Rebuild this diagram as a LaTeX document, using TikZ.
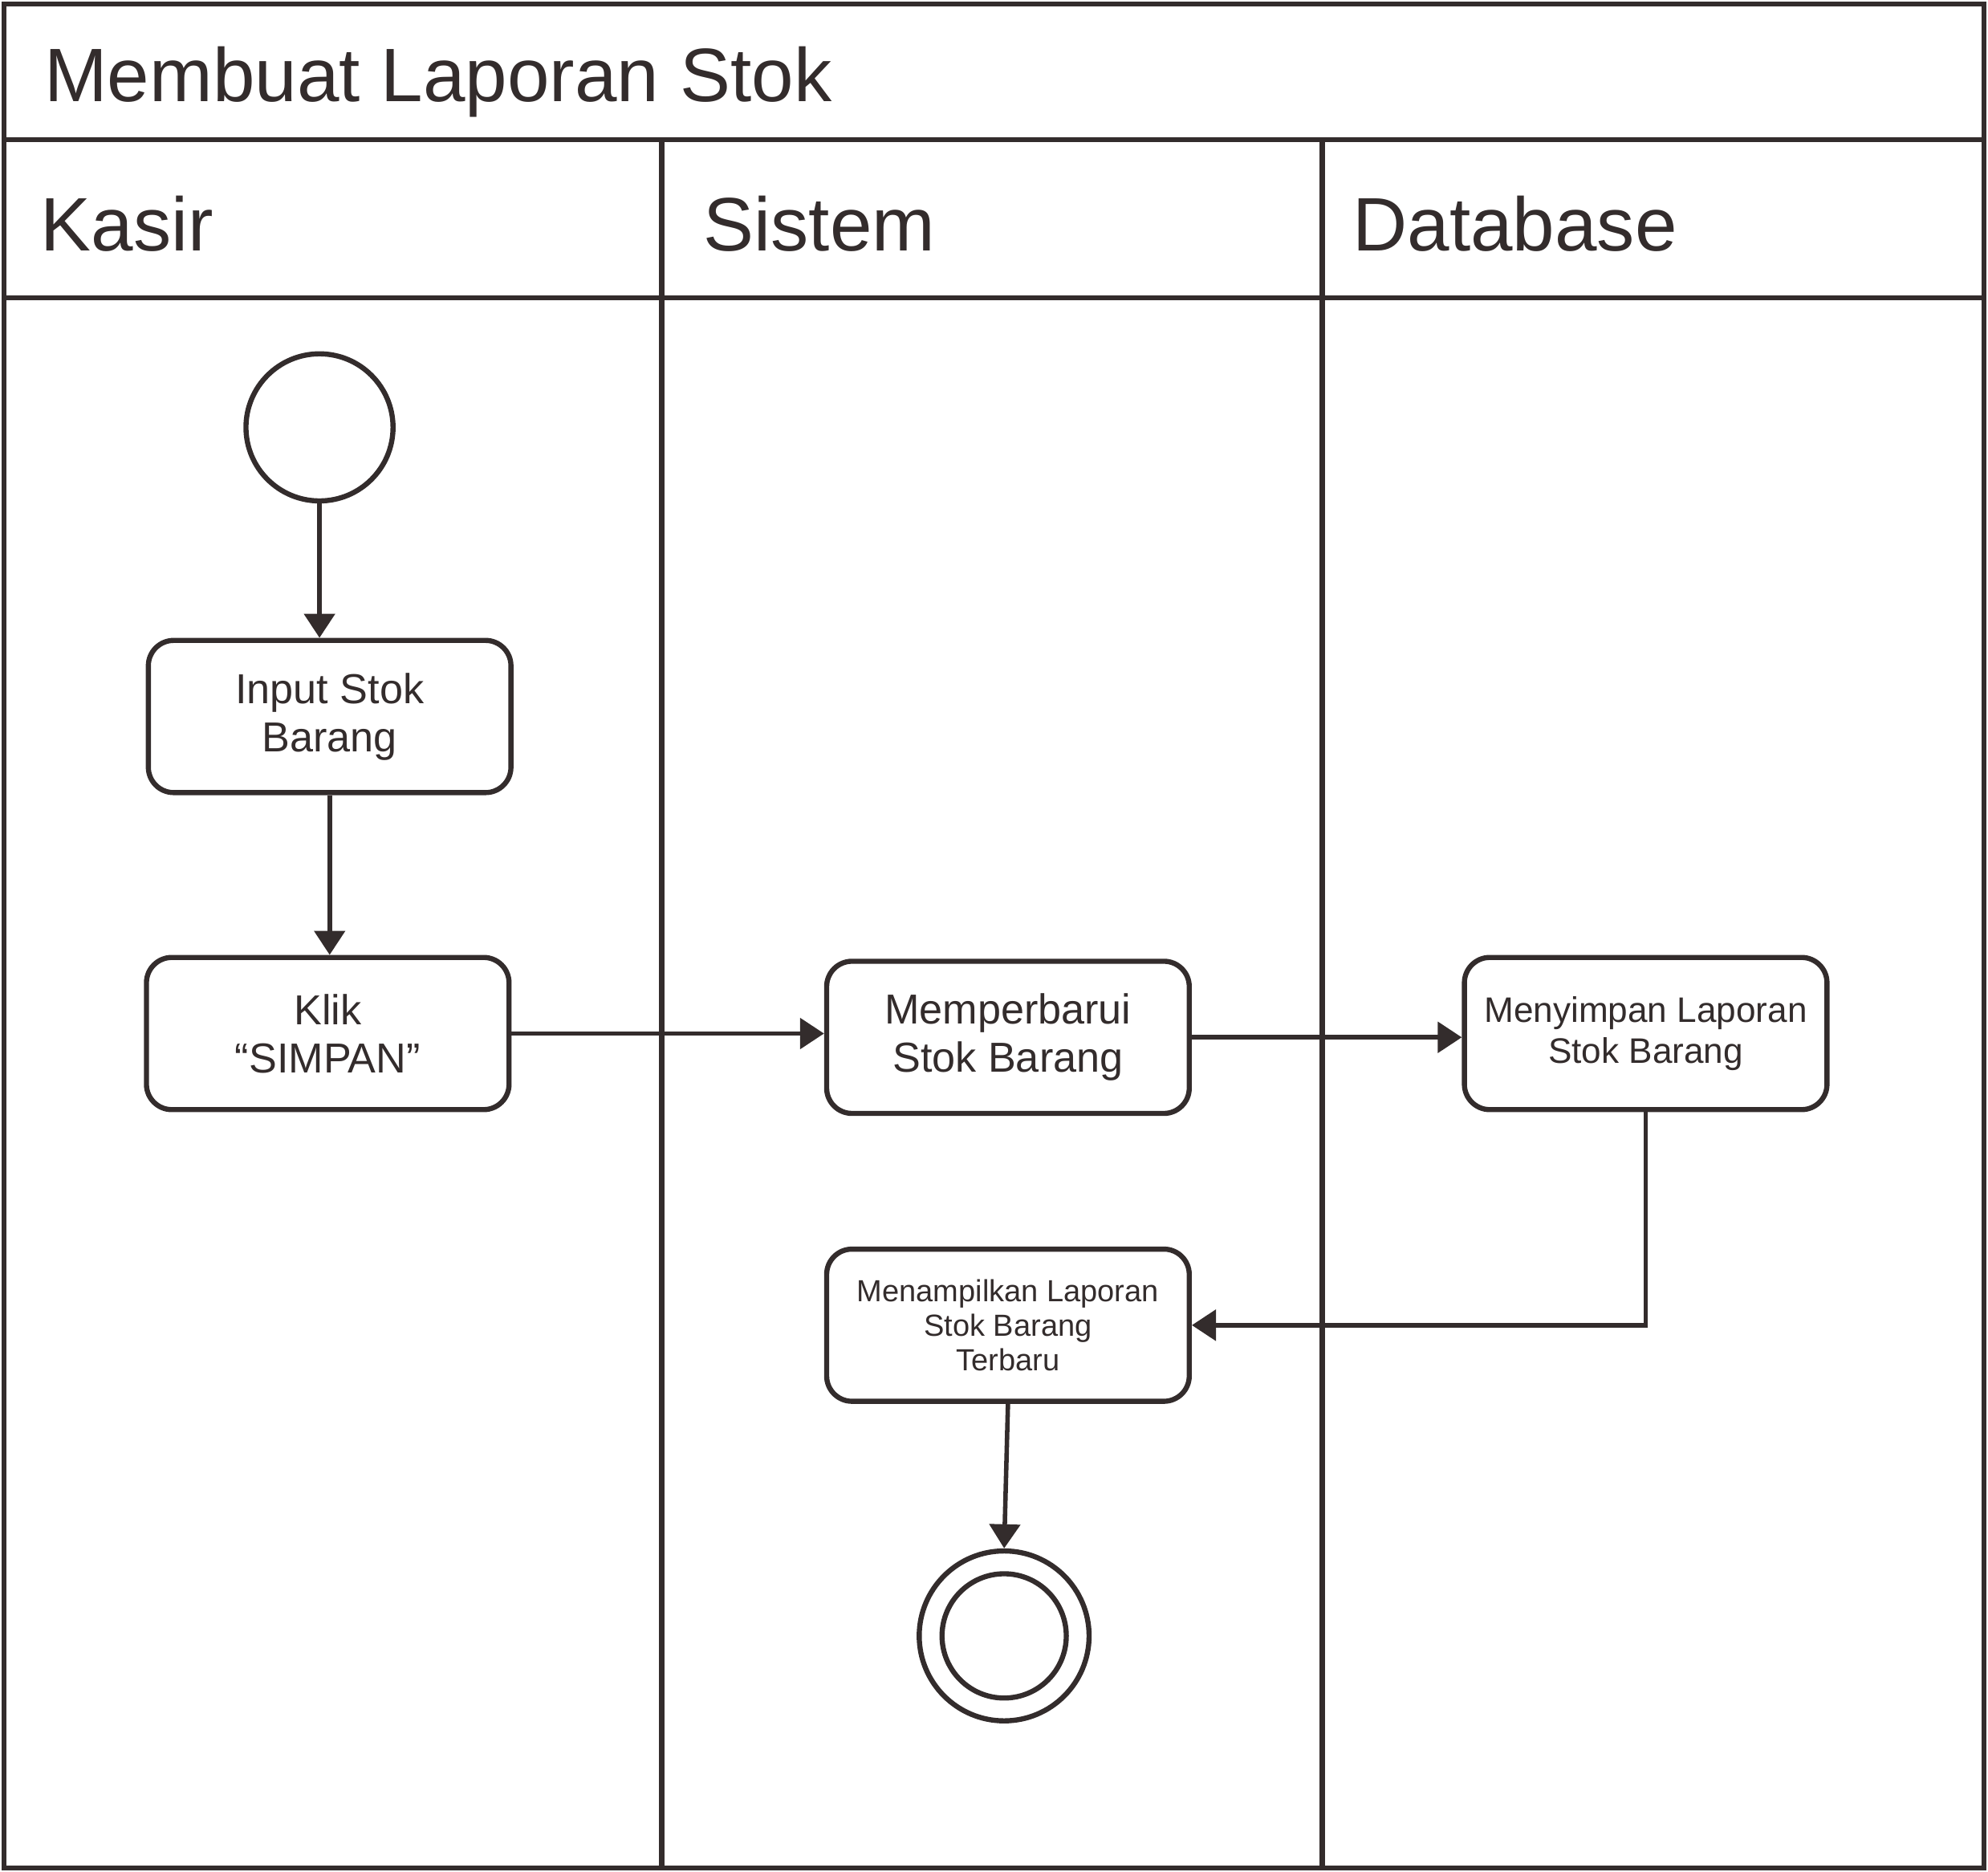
\documentclass[tikz,border=0pt]{standalone}
\usepackage{fontspec}
\setmainfont{Liberation Sans}
\usetikzlibrary{positioning,arrows.meta,calc}
\definecolor{ink}{RGB}{51,44,44}

\begin{document}
\begin{tikzpicture}[
  ink, line width=2.3pt,
  act/.style={draw, rounded corners=0.4cm, minimum width=5.72cm,
              minimum height=2.4cm, align=center, inner sep=2pt},
  big/.style={font=\fontsize{18.8}{21.6}\selectfont},
  mid/.style={font=\fontsize{15.9}{18.3}\selectfont},
  sml/.style={font=\fontsize{13.7}{15.5}\selectfont},
  head/.style={anchor=base west, inner sep=0pt, font=\fontsize{34}{40}\selectfont},
  dot/.style={circle, draw, inner sep=0pt},
  arr/.style={-{Triangle[length=3.8mm,width=4.8mm]}, line width=2pt},
]
  \useasboundingbox (0,0) rectangle (31.36,-29.52);

  % swimlane frame
  \draw (0.06,-0.06) rectangle (31.30,-29.46);
  \draw (0.06,-2.20) -- (31.30,-2.20);
  \draw (0.06,-4.70) -- (31.30,-4.70);
  \draw (10.44,-2.20) -- (10.44,-29.46);
  \draw (20.86,-2.20) -- (20.86,-29.46);

  \node[head] (title)  at (0.66,-1.60)  {Membuat Laporan Stok};
  \node[head] (kasir)  at (0.60,-3.96)  {Kasir};
  \node[head] (sistem) at (11.06,-3.96) {Sistem};
  \node[head] (db)     at (21.30,-3.96) {Database};

  % activities
  \node[dot, minimum size=2.32cm] (start) at (5.04,-6.74) {};
  \node[act, big] (input)   at (5.20,-11.30)  {Input Stok\\Barang};
  \node[act, big] (klik)    at (5.17,-16.30)  {Klik\\“SIMPAN”};
  \node[act, big] (update)  at (15.90,-16.36) {Memperbarui\\Stok Barang};
  \node[act, mid] (simpan)  at (25.96,-16.30) {Menyimpan Laporan\\Stok Barang};
  \node[act, sml] (tampil)  at (15.90,-20.90) {Menampilkan Laporan\\Stok Barang\\Terbaru};
  \node[dot, minimum size=2.68cm] (end)   at (15.84,-25.80) {};
  \node[dot, minimum size=1.96cm] (endin) at (end) {};

  \draw[arr] (start.south) -- (start.south |- input.north);
  \draw[arr] (input.south) -- (input.south |- klik.north);
  \draw[arr] (klik.east)   -- (klik.east -| update.west);
  \draw[arr] (update.east) -- (update.east -| simpan.west);
  \draw[arr] (simpan.south) |- (tampil.east);
  \draw[arr] (tampil.south) -- (end.north);
\end{tikzpicture}
\end{document}
